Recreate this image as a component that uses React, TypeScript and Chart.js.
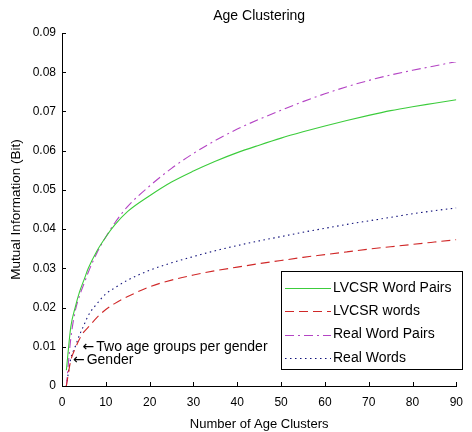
import React, { useEffect, useRef } from "react";
import { Chart, registerables } from "chart.js";

Chart.register(...registerables);

const clusters = [1, 2, 3, 4, 5, 6, 8, 10, 12, 15, 20, 25, 30, 35, 40, 45, 50, 55, 60, 65, 70, 75, 80, 85, 90];
const lvcsrWordPairs = [0.004, 0.015, 0.02, 0.024, 0.027, 0.03, 0.0345, 0.038, 0.041, 0.0445, 0.0485, 0.052, 0.0548, 0.0573, 0.0595, 0.0614, 0.0632, 0.0648, 0.0663, 0.0677, 0.069, 0.0702, 0.0712, 0.0721, 0.073];
const lvcsrWords = [0, 0.0065, 0.0095, 0.012, 0.0138, 0.015, 0.0175, 0.0195, 0.021, 0.0228, 0.0253, 0.027, 0.0283, 0.0294, 0.0303, 0.0312, 0.032, 0.0328, 0.0335, 0.0342, 0.0349, 0.0355, 0.0361, 0.0367, 0.0373];
const realWordPairs = [0, 0.012, 0.019, 0.023, 0.026, 0.029, 0.034, 0.038, 0.0415, 0.0458, 0.051, 0.0555, 0.0593, 0.0626, 0.0655, 0.068, 0.0703, 0.0725, 0.0745, 0.0763, 0.0779, 0.0793, 0.0805, 0.0816, 0.0827];
const realWords = [0, 0.007, 0.01, 0.013, 0.0155, 0.018, 0.021, 0.0235, 0.025, 0.027, 0.0295, 0.0314, 0.033, 0.0345, 0.0358, 0.037, 0.0381, 0.0392, 0.0402, 0.0412, 0.0421, 0.043, 0.0439, 0.0447, 0.0454];

const seriesLabels = ["LVCSR Word Pairs", "LVCSR words", "Real Word Pairs", "Real Words"];
const xTickLabels = ["0", "10", "20", "30", "40", "50", "60", "70", "80", "90"];
const yTickLabels = ["0", "0.01", "0.02", "0.03", "0.04", "0.05", "0.06", "0.07", "0.08", "0.09"];

const annotationTexts = ["Two age groups per gender", "Gender"];
const annotationX = [4.7, 2.5];
const annotationY = [0.00995, 0.0066];

const FONT = "'Liberation Sans', Arial, sans-serif";
const ARROW_FONT = "'DejaVu Sans', sans-serif";

const App: React.FC = () => {
  const ref = useRef<HTMLCanvasElement | null>(null);

  useEffect(() => {
    document.body.style.margin = "0";
    const canvas = ref.current;
    if (!canvas) return;

    const toPts = (ys: number[]) => clusters.map((x, i) => ({ x, y: ys[i] }));

    const styles = [
      { color: "#3ccc3c", dash: [] as number[] },
      { color: "#d02828", dash: [9, 5] },
      { color: "#b444c4", dash: [9, 4, 2, 4] },
      { color: "#10107a", dash: [1.5, 3.5] },
    ];
    const all = [lvcsrWordPairs, lvcsrWords, realWordPairs, realWords];

    const overlay = {
      id: "overlay",
      afterDraw(chart: any) {
        const ctx = chart.ctx as CanvasRenderingContext2D;
        const xs = chart.scales.x;
        const ys = chart.scales.y;
        const area = chart.chartArea;
        ctx.save();
        // title
        ctx.fillStyle = "#000";
        ctx.font = `14px ${FONT}`;
        ctx.textAlign = "center";
        ctx.textBaseline = "middle";
        ctx.fillText("Age Clustering", (area.left + area.right) / 2, 16);

        // inward ticks
        ctx.strokeStyle = "#000";
        ctx.lineWidth = 1;
        ctx.setLineDash([]);
        xs.ticks.forEach((t: any) => {
          const px = Math.round(xs.getPixelForValue(t.value)) + 0.5;
          ctx.beginPath();
          ctx.moveTo(px, area.bottom);
          ctx.lineTo(px, area.bottom - 4);
          ctx.stroke();
        });
        ys.ticks.forEach((t: any) => {
          const py = Math.round(ys.getPixelForValue(t.value)) + 0.5;
          ctx.beginPath();
          ctx.moveTo(area.left, py);
          ctx.lineTo(area.left + 4, py);
          ctx.stroke();
        });

        // annotations
        ctx.textAlign = "left";
        ctx.textBaseline = "middle";
        ctx.fillStyle = "#000";
        annotationTexts.forEach((txt, i) => {
          const ax = xs.getPixelForValue(annotationX[i]);
          const ay = ys.getPixelForValue(annotationY[i]);
          ctx.font = `14px ${ARROW_FONT}`;
          ctx.fillText("\u2190", ax, ay);
          const w = ctx.measureText("\u2190").width;
          ctx.font = `14px ${FONT}`;
          ctx.fillText(txt, ax + w + 2, ay);
        });

        // legend box
        const lx = 281.5, ly = 271.5, lw = 181, lh = 98;
        ctx.fillStyle = "#fff";
        ctx.fillRect(lx, ly, lw, lh);
        ctx.strokeStyle = "#000";
        ctx.strokeRect(lx, ly, lw, lh);
        chart.data.datasets.forEach((ds: any, i: number) => {
          const cy = 288 + i * 23.3;
          ctx.strokeStyle = ds.borderColor;
          ctx.lineWidth = 1;
          ctx.setLineDash(ds.borderDash || []);
          ctx.beginPath();
          ctx.moveTo(285, Math.round(cy) + 0.5);
          ctx.lineTo(331, Math.round(cy) + 0.5);
          ctx.stroke();
          ctx.setLineDash([]);
          ctx.fillStyle = "#000";
          ctx.font = `14px ${FONT}`;
          ctx.fillText(ds.label, 333, cy);
        });
        ctx.restore();
      },
    };

    const chart = new Chart(canvas, {
      type: "line",
      data: {
        datasets: all.map((ys, i) => ({
          label: seriesLabels[i],
          data: toPts(ys),
          borderColor: styles[i].color,
          backgroundColor: styles[i].color,
          borderDash: styles[i].dash,
          borderWidth: 1.1,
          pointRadius: 0,
          cubicInterpolationMode: "monotone" as const,
          fill: false,
        })),
      },
      options: {
        animation: false,
        responsive: false,
        maintainAspectRatio: false,
        layout: { padding: { top: 33, right: 10, left: 0, bottom: 0 } },
        plugins: {
          legend: { display: false },
          title: { display: false },
          tooltip: { enabled: false },
        },
        scales: {
          x: {
            type: "linear",
            min: 0,
            max: 90,
            ticks: {
              stepSize: 10,
              color: "#000",
              font: { family: FONT, size: 12 },
              padding: 9,
              maxRotation: 0,
              callback: (v: any) => xTickLabels[Math.round(Number(v) / 10)] ?? "",
            },
            grid: { display: false, drawTicks: false },
            border: { display: true, color: "#000", width: 1 },
            title: {
              display: true,
              text: "Number of Age Clusters",
              color: "#000",
              font: { family: FONT, size: 13 },
              padding: { top: 2, bottom: 0 },
            },
            afterFit: (s: any) => {
              s.height = 46;
            },
          },
          y: {
            type: "linear",
            min: 0,
            max: 0.09,
            ticks: {
              stepSize: 0.01,
              color: "#000",
              font: { family: FONT, size: 12 },
              padding: 6,
              callback: (v: any) => yTickLabels[Math.round(Number(v) / 0.01)] ?? "",
            },
            grid: { display: false, drawTicks: false },
            border: { display: true, color: "#000", width: 1 },
            title: {
              display: true,
              text: "Mutual Information (Bit)",
              color: "#000",
              font: { family: FONT, size: 13.5 },
              padding: { top: 8, bottom: 0 },
            },
            afterFit: (s: any) => {
              s.width = 62;
            },
          },
        },
      },
      plugins: [overlay],
    } as any);

    return () => chart.destroy();
  }, []);

  return <canvas ref={ref} width={472} height={432} style={{ display: "block", width: 472, height: 432 }} />;
};

export default App;
